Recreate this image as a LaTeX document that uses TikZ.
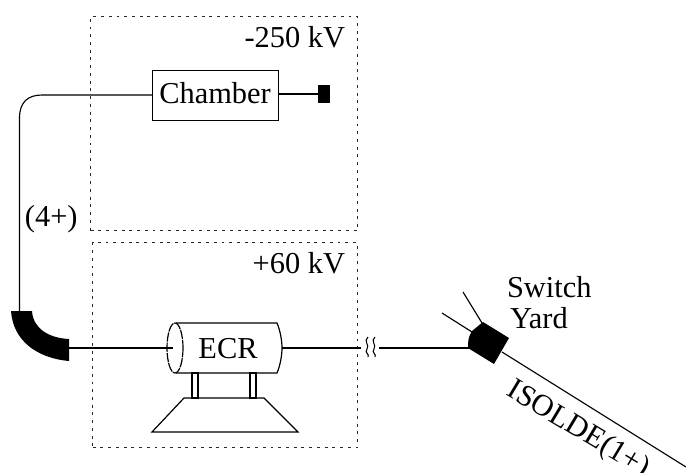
\documentclass[tikz,border=0pt]{standalone}
\usepackage{fontspec}
\setmainfont{Liberation Serif}
\tikzset{
  lbl/.style={inner sep=0pt,outer sep=0pt,font=\fontsize{22.8pt}{24pt}\selectfont,text=black},
  zone/.style={draw=black!85,line width=1pt,dash pattern=on 2.2pt off 3.6pt},
  wire/.style={draw=black,line width=0.85pt},
  solidpart/.style={fill=black,draw=none},
  outline/.style={draw=black,line width=0.9pt,fill=white},
}
\begin{document}
\begin{tikzpicture}[x=0.75pt,y=-0.75pt]
\useasboundingbox[fill=white] (0,0) rectangle (686,472);
% zones
\node[zone,minimum width=267*0.75pt,minimum height=214*0.75pt,inner sep=0pt,anchor=north west] (hv) at (90,16) {};
\node[zone,minimum width=265*0.75pt,minimum height=205*0.75pt,inner sep=0pt,anchor=north west] (lv) at (92,242) {};
\node[lbl,anchor=base east] (hvl) at (345,47) {-250 kV};
\node[lbl,anchor=base east] (lvl) at (345,273) {+60 kV};
% chamber
\node[draw=black,line width=1pt,minimum width=126*0.75pt,minimum height=50*0.75pt,inner sep=0pt,anchor=north west] (chamber) at (152,70) {};
\node[lbl,anchor=base] (chamberl) at (215,103) {Chamber};
\node[solidpart,minimum width=12*0.75pt,minimum height=18*0.75pt,inner sep=0pt] (stop) at (324,94) {};
\draw[wire] (chamber.east |- stop) -- (stop.west);
% elbow
\draw[solidpart] (11,311) -- (32,311) .. controls (33,328) and (48,338) .. (69,339) -- (69,361) .. controls (36,358) and (13,340) .. (11,311) -- cycle;
\coordinate (elbowtop) at (19.5,311);
\coordinate (elbowend) at (69,348);
\draw[wire] (chamber.west |- 0,95) -- (42,95) .. controls (28,95) and (19.5,102) .. (19.5,118) -- (elbowtop);
\node[lbl,anchor=base west] (chargel) at (25,226) {(4+)};
% ECR cylinder
\coordinate (cylL) at (175,348);
\coordinate (cylR) at (282,348);
\draw[outline] (176,323) -- (277,323) .. controls (280,330) and (282,340) .. (282,348) .. controls (282,356) and (280,366) .. (277,373) -- (176,373);
\draw[outline,fill=none,dash pattern=on 7pt off 0.7pt] (cylL) ellipse [x radius=8,y radius=25];
\draw[wire] (elbowend) -- (173,348);
\node[lbl,anchor=base] (ecrl) at (228,358) {ECR};
% stand
\draw[outline] (192,373) rectangle (198,398);
\draw[outline] (250,373) rectangle (256,398);
\draw[outline,fill=none] (184,398) -- (264,398) -- (298,432) -- (152,432) -- cycle;
% beam with break
\coordinate (brkA) at (361,348);
\coordinate (brkB) at (379,348);
\draw[wire] (cylR) -- (brkA);
\draw[black,line width=0.8pt] (368,337) .. controls (363,341) and (370,345) .. (367,349) .. controls (364,353) and (370,354) .. (368,357);
\draw[black,line width=0.8pt] (375,337) .. controls (370,341) and (377,345) .. (374,349) .. controls (371,353) and (377,354) .. (375,357);
\coordinate (swL) at (470,348);
\draw[wire] (brkB) -- (swL);
% switch yard
\draw[solidpart] (483,322) -- (509,338) -- (494,364) -- (468,348) .. controls (468,342) and (468,337) .. (472,331) -- cycle;
\coordinate (swA) at (463,292);
\coordinate (swAe) at (482,323);
\coordinate (swB) at (442,313);
\coordinate (swBe) at (472,332);
\coordinate (swC) at (502,352);
\coordinate (swD) at (686,467);
\draw[wire] (swA) -- (swAe);
\draw[wire] (swB) -- (swBe);
\draw[wire] (swC) -- (swD);
\node[lbl,anchor=base west] (swl) at (507,297) {Switch};
\node[lbl,anchor=base west] (yardl) at (510,328) {Yard};
\node[lbl,rotate=-31] (isl) at (578,430) {ISOLDE(1+)};
\end{tikzpicture}
\end{document}
